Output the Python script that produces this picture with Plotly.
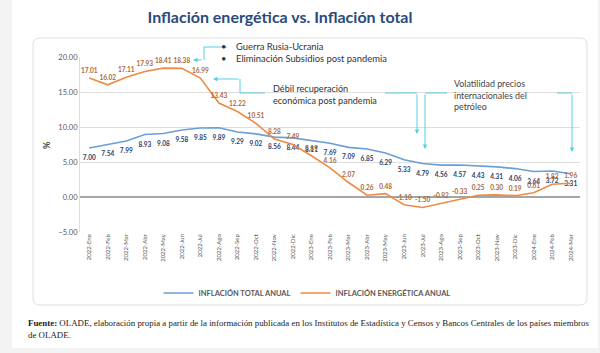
import plotly.graph_objects as go

# ---------------- data ----------------
months = [
    "2022-Ene", "2022-Feb", "2022-Mar", "2022-Abr", "2022-May", "2022-Jun",
    "2022-Jul", "2022-Ago", "2022-Sep", "2022-Oct", "2022-Nov", "2022-Dic",
    "2023-Ene", "2023-Feb", "2023-Mar", "2023-Abr", "2023-May", "2023-Jun",
    "2023-Jul", "2023-Ago", "2023-Sep", "2023-Oct", "2023-Nov", "2023-Dic",
    "2024-Ene", "2024-Feb", "2024-Mar",
]
inflacion_total = [
    7.00, 7.54, 7.99, 8.93, 9.08, 9.58, 9.85, 9.89, 9.29, 9.02, 8.56, 8.44,
    8.11, 7.69, 7.09, 6.85, 6.29, 5.33, 4.79, 4.56, 4.57, 4.43, 4.31, 4.06,
    3.64, 3.72, 3.31,
]
inflacion_energetica = [
    17.01, 16.02, 17.11, 17.93, 18.41, 18.38, 16.99, 13.43, 12.22, 10.51, 8.28, 7.49,
    5.89, 4.16, 2.07, 0.26, 0.48, -1.10, -1.50, -0.92, -0.33, 0.25, 0.30, 0.19,
    0.61, 1.82, 1.96,
]
y_ticks = [-5, 0, 5, 10, 15, 20]

# ---------------- layout geometry (pixels) ----------------
W, H = 600, 353
L, R, T, B = 80, 20, 57, 121
PW, PH = W - L - R, H - T - B


def px(x):
    return (x - L) / PW


def py(y):
    return (H - B - y) / PH


CYAN = "#55cfe4"
FONT = "Lato"

fig = go.Figure()
fig.add_trace(go.Scatter(
    x=months, y=inflacion_total, mode="lines+markers+text",
    name="<b>INFLACIÓN TOTAL ANUAL</b>",
    line=dict(color="#6a9ed8", width=1.6),
    marker=dict(size=10, color="rgba(0,0,0,0)"),
    text=[f"{v:.2f}" for v in inflacion_total], textposition="bottom center",
    textfont=dict(family=FONT, size=6.5, color="#2e3f70", weight="bold"),
    cliponaxis=False,
))
fig.add_trace(go.Scatter(
    x=months, y=inflacion_energetica, mode="lines+markers+text",
    name="<b>INFLACIÓN ENERGÉTICA ANUAL</b>",
    line=dict(color="#ef8a45", width=1.6),
    marker=dict(size=4, color="rgba(0,0,0,0)"),
    text=[f"{v:.2f}" for v in inflacion_energetica], textposition="top center",
    textfont=dict(family=FONT, size=6.5, color="#a8693c", weight="bold"),
    cliponaxis=False,
))

shapes = []
# outer slide background and rounded card
shapes.append(dict(type="rect", xref="paper", yref="paper", layer="below",
                   x0=px(12), x1=px(598), y0=py(0), y1=py(348),
                   fillcolor="white", line=dict(width=0)))
x0, x1, y0, y1, r = 33, 587, 38, 305, 7
path = (f"M{px(x0 + r)},{py(y0)} L{px(x1 - r)},{py(y0)} Q{px(x1)},{py(y0)} {px(x1)},{py(y0 + r)} "
        f"L{px(x1)},{py(y1 - r)} Q{px(x1)},{py(y1)} {px(x1 - r)},{py(y1)} "
        f"L{px(x0 + r)},{py(y1)} Q{px(x0)},{py(y1)} {px(x0)},{py(y1 - r)} "
        f"L{px(x0)},{py(y0 + r)} Q{px(x0)},{py(y0)} {px(x0 + r)},{py(y0)} Z")
shapes.append(dict(type="path", xref="paper", yref="paper", layer="below", path=path,
                   fillcolor="white", line=dict(color="#e0e0e0", width=1)))

# cyan bracket lines
segs = [
    ((227, 47), (204, 47)), ((204, 47), (204, 60)),
    ((240, 79), (240, 93)), ((240, 93), (265, 93)),
    ((385, 93), (417, 93)),
    ((447, 93), (425, 93)),
    ((557, 93), (572, 93)),
]
for (ax_, ay_), (bx, by) in segs:
    shapes.append(dict(type="line", xref="paper", yref="paper",
                       x0=px(ax_), y0=py(ay_), x1=px(bx), y1=py(by),
                       line=dict(color=CYAN, width=1)))

annotations = []
# arrows: head position, tail offset
arrows = [((193, 60), (10, 0)), ((213, 79), (27, 0)),
          ((417, 134), (0, -41)), ((425, 149), (0, -56)), ((572, 152), (0, -59))]
for (hx, hy), (ox, oy) in arrows:
    annotations.append(dict(xref="paper", yref="paper", x=px(hx), y=py(hy), text="",
                            showarrow=True, ax=ox, ay=oy, arrowhead=2, arrowsize=0.9,
                            arrowwidth=1, arrowcolor=CYAN))

annotations.append(dict(
    xref="paper", yref="paper", x=px(219), y=py(52), xanchor="left", yanchor="middle",
    align="left", showarrow=False,
    text="•&nbsp;&nbsp;&nbsp;&nbsp;Guerra Rusia-Ucrania<br>•&nbsp;&nbsp;&nbsp;&nbsp;Eliminación Subsidios post pandemia",
    font=dict(family=FONT, size=9.4, color="#333333")))
annotations.append(dict(
    xref="paper", yref="paper", x=px(271), y=py(94), xanchor="left", yanchor="middle",
    align="left", showarrow=False,
    text="Débil recuperación<br>económica post pandemia",
    font=dict(family=FONT, size=9.1, color="#333333")))
annotations.append(dict(
    xref="paper", yref="paper", x=px(452), y=py(95), xanchor="left", yanchor="middle",
    align="left", showarrow=False,
    text="Volatilidad precios<br>internacionales del<br>petróleo",
    font=dict(family=FONT, size=8.9, color="#444444")))
annotations.append(dict(
    xref="paper", yref="paper", x=px(26), y=py(323), xanchor="left", yanchor="middle",
    align="left", showarrow=False,
    text="<b>Fuente:</b> OLADE, elaboración propia a partir de la información publicada en los Institutos de Estadística y Censos y Bancos Centrales de los países miembros",
    font=dict(family="Liberation Serif", size=8.9, color="#222222")))
annotations.append(dict(
    xref="paper", yref="paper", x=px(26), y=py(335), xanchor="left", yanchor="middle",
    align="left", showarrow=False, text="de OLADE.",
    font=dict(family="Liberation Serif", size=8.9, color="#222222")))
annotations.append(dict(
    xref="paper", yref="paper", x=px(46), y=py(145), xanchor="center", yanchor="middle",
    showarrow=False, text="<b>%</b>", textangle=-90,
    font=dict(family=FONT, size=9, color="#444444")))

fig.update_layout(
    width=W, height=H,
    margin=dict(l=L, r=R, t=T, b=B, pad=0),
    paper_bgcolor="#f3f3f3", plot_bgcolor="rgba(0,0,0,0)",
    title=dict(text="<b>Inflación energética vs. Inflación total</b>",
               x=280 / W, xanchor="center", xref="container",
               y=1 - 17 / H, yanchor="middle", yref="container",
               font=dict(family=FONT, size=16, color="#2b4a7c")),
    shapes=shapes, annotations=annotations,
    showlegend=True,
    legend=dict(orientation="h", x=px(307), y=py(293), xanchor="center", yanchor="middle",
                font=dict(family=FONT, size=7.5, color="#595959"),
                itemwidth=30, bgcolor="rgba(0,0,0,0)", tracegroupgap=0),
    xaxis=dict(type="category", tickangle=-90, showgrid=False, showline=False,
               ticks="", tickfont=dict(family=FONT, size=6, color="#595959"),
               range=[-0.5, len(months) - 0.5], fixedrange=True),
    yaxis=dict(range=[-5, 20], tickvals=y_ticks, tickformat=".2f",
               showgrid=True, gridcolor="#dedede", gridwidth=1,
               zeroline=True, zerolinecolor="#a6a6a6", zerolinewidth=2,
               showline=True, linecolor="#dedede", linewidth=1,
               ticks="", tickfont=dict(family=FONT, size=7.5, color="#595959"),
               fixedrange=True),
)

fig.write_html("out.html")
